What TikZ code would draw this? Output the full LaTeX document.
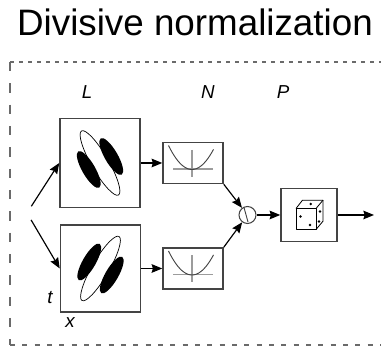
\documentclass[tikz,border=0pt]{standalone}
\usepackage{fontspec}
\setmainfont{Liberation Sans}
\usetikzlibrary{arrows.meta,calc}
\definecolor{pizarra}{HTML}{444444}
\definecolor{ceniza}{HTML}{6A6A6A}
\definecolor{plomo}{HTML}{9C9C9C}

\begin{document}
\begin{tikzpicture}[x=0.3mm,y=0.3mm,>={Stealth[length=3.2mm,width=2.6mm,inset=0.4mm]},
    caja/.style={draw=pizarra,line width=1.3pt,inner sep=0pt},
    flecha/.style={->,line width=1pt},
    etiq/.style={font=\fontsize{16}{18}\selectfont\itshape,anchor=base}]
  \useasboundingbox (0,0) rectangle (381,347);
  \node[anchor=base,font=\fontsize{31.4}{36}\selectfont] (titulo) at (195,311) {Divisive normalization};
  % marco punteado
  \draw[ceniza,line width=1pt,dash pattern=on 1.2mm off 1.5mm] (10,285) -- (381,285);
  \draw[ceniza,line width=1pt,dash pattern=on 2.8mm off 3.6mm] (10,285) -- (10,2);
  \draw[ceniza,line width=1pt,dash pattern=on 1.5mm off 2.2mm] (10,2) -- (381,2);
  \node[etiq] (labL) at (87,248) {L};
  \node[etiq] (labN) at (208,248) {N};
  \node[etiq] (labP) at (283,248) {P};
  \node[caja,minimum width=24mm,minimum height=26.6mm] (lArr) at (100,184) {};
  \node[caja,minimum width=24mm,minimum height=26.2mm] (lAbj) at (100.5,78.5) {};
  \node[caja,minimum width=18mm,minimum height=12.3mm] (nArr) at (193,184) {};
  \node[caja,minimum width=18mm,minimum height=12.3mm] (nAbj) at (193,78.5) {};
  \node[draw=pizarra,line width=0.9pt,circle,minimum size=5.1mm,inner sep=0pt] (div) at (247.5,132) {};
  \node[caja,minimum width=16.8mm,minimum height=15.9mm] (dado) at (309,132) {};
  \node[etiq] (tiempo) at (50,43) {t};
  \node[etiq] (espacio) at (70,19) {x};
  % campos receptivos
  \begin{scope}[shift={(lArr)}]
    \fill (30:13) ellipse[x radius=21,y radius=6.5,rotate=-60];
    \fill (210:13) ellipse[x radius=21,y radius=6.5,rotate=-60];
    \draw[line width=0.6pt] (0,0) ellipse[x radius=37,y radius=8.5,rotate=-60];
  \end{scope}
  \begin{scope}[shift={(lAbj)}]
    \fill (150:13) ellipse[x radius=21,y radius=6.5,rotate=60];
    \fill (330:13) ellipse[x radius=21,y radius=6.5,rotate=60];
    \draw[line width=0.6pt] (0,0) ellipse[x radius=37,y radius=8.5,rotate=60];
  \end{scope}
  \foreach \n in {nArr,nAbj}{
    \begin{scope}[shift={(\n)}]
      \draw[plomo,line width=1pt] (-20,-6) -- (20,-6);
      \draw[plomo,line width=1pt] (-1,13) -- (-1,-14);
      \draw[pizarra,line width=0.8pt] plot[domain=-23.5:21.5,smooth] ({\x-1},{-6.5+0.0435*\x*\x});
    \end{scope}
  }
  \draw[pizarra,line width=0.8pt] ($(div)+(-3.5,7.5)$) -- ($(div)+(0.5,-7)$);
  % dado
  \begin{scope}[shift={(dado)},line width=0.7pt,line join=round]
    \draw (-13,-14.5) rectangle (7,6.5);
    \draw (-13,6.5) -- (-6.5,14.8) -- (14,14.8) -- (14,-6.2) -- (7,-14.5);
    \draw (7,6.5) -- (14,14.8);
    \fill (1.7,11) circle (1.4);
    \fill (-8.5,-1.5) circle (1.4) (1,-10) circle (1.4);
    \fill (11,3.5) circle (1.3) (10,-6.5) circle (1.3);
  \end{scope}
  % conexiones
  \coordinate (fuente) at (27,134);
  \coordinate (salida) at (374,132);
  \draw[flecha,shorten <=2.4mm] (fuente) -- (lArr.west);
  \draw[flecha,shorten <=2.4mm] (fuente) -- (lAbj.west);
  \draw[flecha] (lArr.east) -- (nArr.west);
  \draw[flecha] (lAbj.east) -- (nAbj.west);
  \draw[flecha] (nArr.south east) -- (div);
  \draw[flecha] (nAbj.north east) -- (div);
  \draw[flecha] (div) -- (dado);
  \draw[flecha] (dado) -- (salida);
\end{tikzpicture}
\end{document}
